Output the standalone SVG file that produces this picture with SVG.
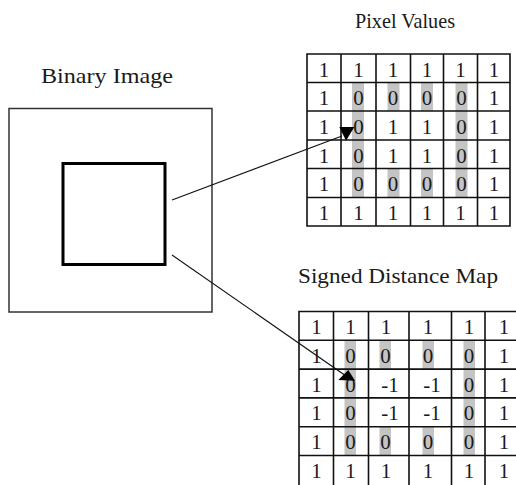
<svg xmlns="http://www.w3.org/2000/svg" width="516" height="485" viewBox="0 0 516 485">
<style>
.bg{fill:#ffffff}
.title{font-family:"Liberation Serif","Times New Roman",serif;font-size:21px;fill:#1a1a1a}
.num{font-family:"Liberation Serif","Times New Roman",serif;font-size:21px;fill:#1a1a1a;text-anchor:middle}
.grid{stroke:#111;stroke-width:1.6;fill:none}
.hl{fill:#c4c4c4}
.outer{fill:none;stroke:#333;stroke-width:1.5}
.inner{fill:none;stroke:#000;stroke-width:3}
.conn{stroke:#111;stroke-width:1.1;fill:none}
.head{fill:#000}
</style>
<defs>
<marker id="headDown" markerUnits="userSpaceOnUse" markerWidth="20" markerHeight="20" refX="0" refY="0" orient="0" overflow="visible">
<path class="head" d="M-2.7,-9 L12.3,-9 L4,4.7 Z"/>
</marker>
<marker id="headUp" markerUnits="userSpaceOnUse" markerWidth="20" markerHeight="20" refX="0" refY="0" orient="0" overflow="visible">
<path class="head" d="M2.3,-6 L9,4.7 L-7.7,4 Z"/>
</marker>
</defs>
<rect class="bg" x="0" y="0" width="516" height="485"/>

<g id="binary-image">
<text class="title" x="41" y="83" textLength="132" lengthAdjust="spacingAndGlyphs">Binary Image</text>
<rect class="outer" x="9" y="108.5" width="203" height="203.5"/>
<rect class="inner" x="63" y="163.5" width="102" height="101"/>
</g>

<g id="pixel-values">
<text class="title" x="355" y="28" textLength="100" lengthAdjust="spacingAndGlyphs">Pixel Values</text>
<rect class="hl" x="352" y="82.5" width="12" height="115"/>
<rect class="hl" x="387.5" y="82.5" width="12" height="28.5"/>
<rect class="hl" x="387.5" y="168.5" width="12" height="29"/>
<rect class="hl" x="421" y="82.5" width="12" height="28.5"/>
<rect class="hl" x="421" y="168.5" width="12" height="29"/>
<rect class="hl" x="455.5" y="82.5" width="12" height="115"/>
<path class="grid" d="M307,54 H510 V226 H307 Z M341,54 V226 M376,54 V226 M410.5,54 V226 M443.5,54 V226 M477.5,54 V226 M307,82.5 H510 M307,111 H510 M307,140 H510 M307,168.5 H510 M307,197.5 H510"/>
<g>
<text class="num" x="324" y="76.5">1</text><text class="num" x="358.5" y="76.5">1</text><text class="num" x="393" y="76.5">1</text><text class="num" x="427" y="76.5">1</text><text class="num" x="460.5" y="76.5">1</text><text class="num" x="494" y="76.5">1</text>
<text class="num" x="324" y="105">1</text><text class="num" x="358.5" y="105">0</text><text class="num" x="393" y="105">0</text><text class="num" x="427" y="105">0</text><text class="num" x="461.5" y="105">0</text><text class="num" x="494" y="105">1</text>
<text class="num" x="324" y="133.5">1</text><text class="num" x="358.5" y="133.5">0</text><text class="num" x="393" y="133.5">1</text><text class="num" x="427" y="133.5">1</text><text class="num" x="461.5" y="133.5">0</text><text class="num" x="494" y="133.5">1</text>
<text class="num" x="324" y="162.5">1</text><text class="num" x="358.5" y="162.5">0</text><text class="num" x="393" y="162.5">1</text><text class="num" x="427" y="162.5">1</text><text class="num" x="461.5" y="162.5">0</text><text class="num" x="494" y="162.5">1</text>
<text class="num" x="324" y="191">1</text><text class="num" x="358.5" y="191">0</text><text class="num" x="393" y="191">0</text><text class="num" x="427" y="191">0</text><text class="num" x="461.5" y="191">0</text><text class="num" x="494" y="191">1</text>
<text class="num" x="324" y="220">1</text><text class="num" x="358.5" y="220">1</text><text class="num" x="393" y="220">1</text><text class="num" x="427" y="220">1</text><text class="num" x="460.5" y="220">1</text><text class="num" x="494" y="220">1</text>
</g>
</g>

<g id="signed-distance-map">
<text class="title" x="298" y="283" textLength="200" lengthAdjust="spacingAndGlyphs">Signed Distance Map</text>
<rect class="hl" x="344.5" y="340.3" width="11.5" height="115.2"/>
<rect class="hl" x="379.5" y="340.3" width="11.5" height="28.8"/>
<rect class="hl" x="379.5" y="426.7" width="11.5" height="28.8"/>
<rect class="hl" x="422.5" y="340.3" width="11.5" height="28.8"/>
<rect class="hl" x="422.5" y="426.7" width="11.5" height="28.8"/>
<rect class="hl" x="463.5" y="340.3" width="11.5" height="115.2"/>
<path class="grid" d="M520,311.5 H299 V487 M333.5,311.5 V487 M368.5,311.5 V487 M409,311.5 V487 M451.5,311.5 V487 M485,311.5 V487 M299,340.3 H520 M299,369.1 H520 M299,397.9 H520 M299,426.7 H520 M299,455.5 H520"/>
<g>
<text class="num" x="316.5" y="334">1</text><text class="num" x="350.5" y="334">1</text><text class="num" x="386" y="334">1</text><text class="num" x="428" y="334">1</text><text class="num" x="469" y="334">1</text><text class="num" x="504" y="334">1</text>
<text class="num" x="316.5" y="362.8">1</text><text class="num" x="350.5" y="362.8">0</text><text class="num" x="385.5" y="362.8">0</text><text class="num" x="428" y="362.8">0</text><text class="num" x="469" y="362.8">0</text><text class="num" x="504" y="362.8">1</text>
<text class="num" x="316.5" y="391.6">1</text><text class="num" x="350.5" y="391.6">0</text><text class="num" x="390" y="391.6">-1</text><text class="num" x="432" y="391.6">-1</text><text class="num" x="469" y="391.6">0</text><text class="num" x="504" y="391.6">1</text>
<text class="num" x="316.5" y="420.4">1</text><text class="num" x="350.5" y="420.4">0</text><text class="num" x="390" y="420.4">-1</text><text class="num" x="432" y="420.4">-1</text><text class="num" x="469" y="420.4">0</text><text class="num" x="504" y="420.4">1</text>
<text class="num" x="316.5" y="449.2">1</text><text class="num" x="350.5" y="449.2">0</text><text class="num" x="385.5" y="449.2">0</text><text class="num" x="428" y="449.2">0</text><text class="num" x="469" y="449.2">0</text><text class="num" x="504" y="449.2">1</text>
<text class="num" x="316.5" y="478">1</text><text class="num" x="350.5" y="478">1</text><text class="num" x="386" y="478">1</text><text class="num" x="428" y="478">1</text><text class="num" x="469" y="478">1</text><text class="num" x="504" y="478">1</text>
</g>
</g>

<g id="connectors">
<line class="conn" x1="172" y1="200" x2="342" y2="136" marker-end="url(#headDown)"/>
<line class="conn" x1="172" y1="255" x2="346" y2="376" marker-end="url(#headUp)"/>
</g>
</svg>
